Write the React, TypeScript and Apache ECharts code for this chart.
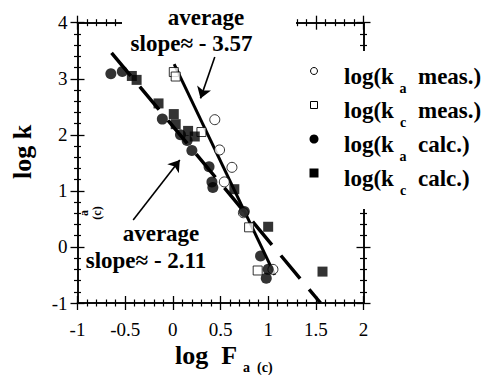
import React, { useEffect, useRef } from "react";
import * as echarts from "echarts";

// log(k_a) measured (open circles)
const kaMeas: [number, number][] = [
  [0.44, 2.27], [0.49, 1.73], [0.62, 1.42], [0.54, 1.16], [0.74, 0.61], [1.05, -0.4],
];
// log(k_c) measured (open squares)
const kcMeas: [number, number][] = [
  [0.01, 3.12], [0.03, 3.04], [0.3, 2.05], [0.8, 0.35], [0.89, -0.42],
];
// log(k_a) calculated (filled circles)
const kaCalc: [number, number][] = [
  [-0.65, 3.09], [-0.53, 3.13], [-0.11, 2.28], [0.08, 2.0], [0.15, 1.9], [0.2, 1.72],
  [0.38, 1.43], [0.41, 1.16], [0.42, 1.06], [0.75, 0.63], [0.92, -0.16], [1.0, -0.4],
  [0.98, -0.56],
];
// log(k_c) calculated (filled squares)
const kcCalc: [number, number][] = [
  [-0.43, 3.05], [-0.38, 2.98], [-0.15, 2.56], [0.01, 2.37], [0.03, 2.19], [0.16, 2.07],
  [0.23, 1.97], [0.645, 1.03], [1.0, 0.36], [1.57, -0.44],
];

// fitted trend lines: end points
const fitCalc: [number, number][] = [[-0.643, 3.46], [1.55, -1.0]];
const fitMeas: [number, number][] = [[0.014, 3.26], [1.07, -0.5]];

// annotation arrows (tail, head)
const arrowMeas: [number, number][] = [[0.44, 3.39], [0.29, 2.65]];
const arrowCalc: [number, number][] = [[-0.416, 0.48], [0.073, 1.55]];

const xTicks = { min: -1, max: 2, interval: 0.5 };
const yTicks = { min: -1, max: 4, interval: 1 };

const slopeMeasText = "slope\u2248 - 3.57";
const slopeCalcText = "slope\u2248 - 2.11";
const legendEntries = [
  { sub: "a", kind: "meas.)" },
  { sub: "c", kind: "meas.)" },
  { sub: "a", kind: "calc.)" },
  { sub: "c", kind: "calc.)" },
];

const FONT = "Liberation Serif";
const INK = "#000";

function makeAxis(
  range: { min: number; max: number; interval: number },
  position: string,
  inside: boolean,
  labels: boolean,
  isX: boolean
) {
  return {
    type: "value",
    ...range,
    position,
    axisLine: { show: true, onZero: false, lineStyle: { color: INK, width: 1.5 } },
    axisTick: { show: true, inside, length: 7, lineStyle: { color: INK, width: 1.3 } },
    minorTick: { show: true, splitNumber: 5, length: 3.5, lineStyle: { color: INK, width: 1.2 } },
    axisLabel: {
      show: labels,
      margin: isX ? 17 : 10,
      fontSize: 19,
      fontFamily: FONT,
      color: INK,
    },
    splitLine: { show: false },
    minorSplitLine: { show: false },
  };
}

function buildOption() {
  const textStyle = (size: number, weight = "bold") => ({
    fontFamily: FONT,
    fontSize: size,
    fontWeight: weight,
    fill: INK,
  });

  const legendRows = [71, 105, 139, 173];
  const legendMarkers: any[] = [
    { type: "circle", shape: { cx: 314, cy: legendRows[0], r: 3.5 }, style: { fill: "#fff", stroke: INK, lineWidth: 1 } },
    { type: "rect", shape: { x: 310.5, y: legendRows[1] - 3.5, width: 7, height: 7 }, style: { fill: "#fff", stroke: INK, lineWidth: 1 } },
    { type: "circle", shape: { cx: 314, cy: legendRows[2], r: 4.5 }, style: { fill: INK } },
    { type: "rect", shape: { x: 309.5, y: legendRows[3] - 4.5, width: 9, height: 9 }, style: { fill: INK } },
  ];
  const legendTexts: any[] = [];
  legendEntries.forEach((e, i) => {
    const y = legendRows[i];
    legendTexts.push(
      { type: "text", x: 344, y: y + 5, style: { ...textStyle(23), text: "log(k", textVerticalAlign: "middle" } },
      { type: "text", x: 403, y: y + 17, style: { ...textStyle(14), text: e.sub, textAlign: "center", textVerticalAlign: "middle" } },
      { type: "text", x: 418, y: y + 5, style: { ...textStyle(23), text: e.kind, textVerticalAlign: "middle" } }
    );
  });

  const graphic: any[] = [
    // breaks in the top and right frame lines
    { type: "rect", shape: { x: 122, y: 10, width: 174, height: 24 }, style: { fill: "#fff" } },
    { type: "rect", shape: { x: 352, y: 51, width: 24, height: 158 }, style: { fill: "#fff" } },
    ...legendMarkers,
    ...legendTexts,
    { type: "text", x: 206, y: 17, style: { ...textStyle(23), text: "average", textAlign: "center", textVerticalAlign: "middle" } },
    { type: "text", x: 191.5, y: 43, style: { ...textStyle(23), text: slopeMeasText, textAlign: "center", textVerticalAlign: "middle" } },
    { type: "text", x: 161, y: 233, style: { ...textStyle(23), text: "average", textAlign: "center", textVerticalAlign: "middle" } },
    { type: "text", x: 146, y: 260, style: { ...textStyle(23), text: slopeCalcText, textAlign: "center", textVerticalAlign: "middle" } },
    // axis titles
    { type: "text", x: 175, y: 355, style: { ...textStyle(26), text: "log  F", textVerticalAlign: "middle" } },
    { type: "text", x: 243, y: 367, style: { ...textStyle(14), text: "a  (c)", textVerticalAlign: "middle" } },
    { type: "text", x: 22, y: 152, rotation: Math.PI / 2, style: { ...textStyle(26), text: "log k", textAlign: "center", textVerticalAlign: "middle" } },
    { type: "text", x: 84, y: 213, rotation: Math.PI / 2, style: { ...textStyle(12), text: "a", textAlign: "center", textVerticalAlign: "middle" } },
    { type: "text", x: 97, y: 213, rotation: Math.PI / 2, style: { ...textStyle(12), text: "(c)", textAlign: "center", textVerticalAlign: "middle" } },
  ].map((g) => ({ z: 50, silent: true, ...g }));

  return {
    animation: false,
    backgroundColor: "#fff",
    grid: { left: 77.5, right: 120.5, top: 22.7, bottom: 72 },
    xAxis: [
      makeAxis(xTicks, "bottom", true, true, true),
      makeAxis(xTicks, "bottom", false, false, true),
      makeAxis(xTicks, "top", true, false, true),
      makeAxis(xTicks, "top", false, false, true),
    ],
    yAxis: [
      makeAxis(yTicks, "left", true, true, false),
      makeAxis(yTicks, "left", false, false, false),
      makeAxis(yTicks, "right", true, false, false),
      makeAxis(yTicks, "right", false, false, false),
    ],
    series: [
      {
        type: "line",
        data: fitCalc,
        showSymbol: false,
        symbol: "none",
        lineStyle: { color: INK, width: 3.5, type: [30, 14] },
        z: 2,
      },
      {
        type: "line",
        data: fitMeas,
        showSymbol: false,
        symbol: "none",
        lineStyle: { color: INK, width: 3 },
        z: 2,
      },
      {
        type: "scatter",
        name: "log(ka meas.)",
        data: kaMeas,
        symbol: "circle",
        symbolSize: 10,
        itemStyle: { color: "#fff", borderColor: INK, borderWidth: 1 },
        z: 3,
      },
      {
        type: "scatter",
        name: "log(kc meas.)",
        data: kcMeas,
        symbol: "rect",
        symbolSize: 9,
        itemStyle: { color: "#fff", borderColor: INK, borderWidth: 1 },
        z: 3,
      },
      {
        type: "scatter",
        name: "log(ka calc.)",
        data: kaCalc,
        symbol: "circle",
        symbolSize: 11,
        itemStyle: { color: INK },
        z: 4,
      },
      {
        type: "scatter",
        name: "log(kc calc.)",
        data: kcCalc,
        symbol: "rect",
        symbolSize: 10,
        itemStyle: { color: INK },
        z: 4,
      },
      {
        type: "lines",
        coordinateSystem: "cartesian2d",
        data: [{ coords: arrowMeas }, { coords: arrowCalc }],
        symbol: ["none", "arrow"],
        symbolSize: 11,
        lineStyle: { color: INK, width: 1.6, opacity: 1 },
        z: 5,
      },
    ],
    graphic,
  };
}

export default function App() {
  const ref = useRef<HTMLDivElement>(null);
  useEffect(() => {
    if (!ref.current) return;
    const chart = echarts.init(ref.current, undefined, { renderer: "svg" });
    chart.setOption(buildOption() as any);
    return () => chart.dispose();
  }, []);
  return (
    <div
      ref={ref}
      style={{ position: "fixed", left: 0, top: 0, width: 484, height: 375, background: "#fff" }}
    />
  );
}
